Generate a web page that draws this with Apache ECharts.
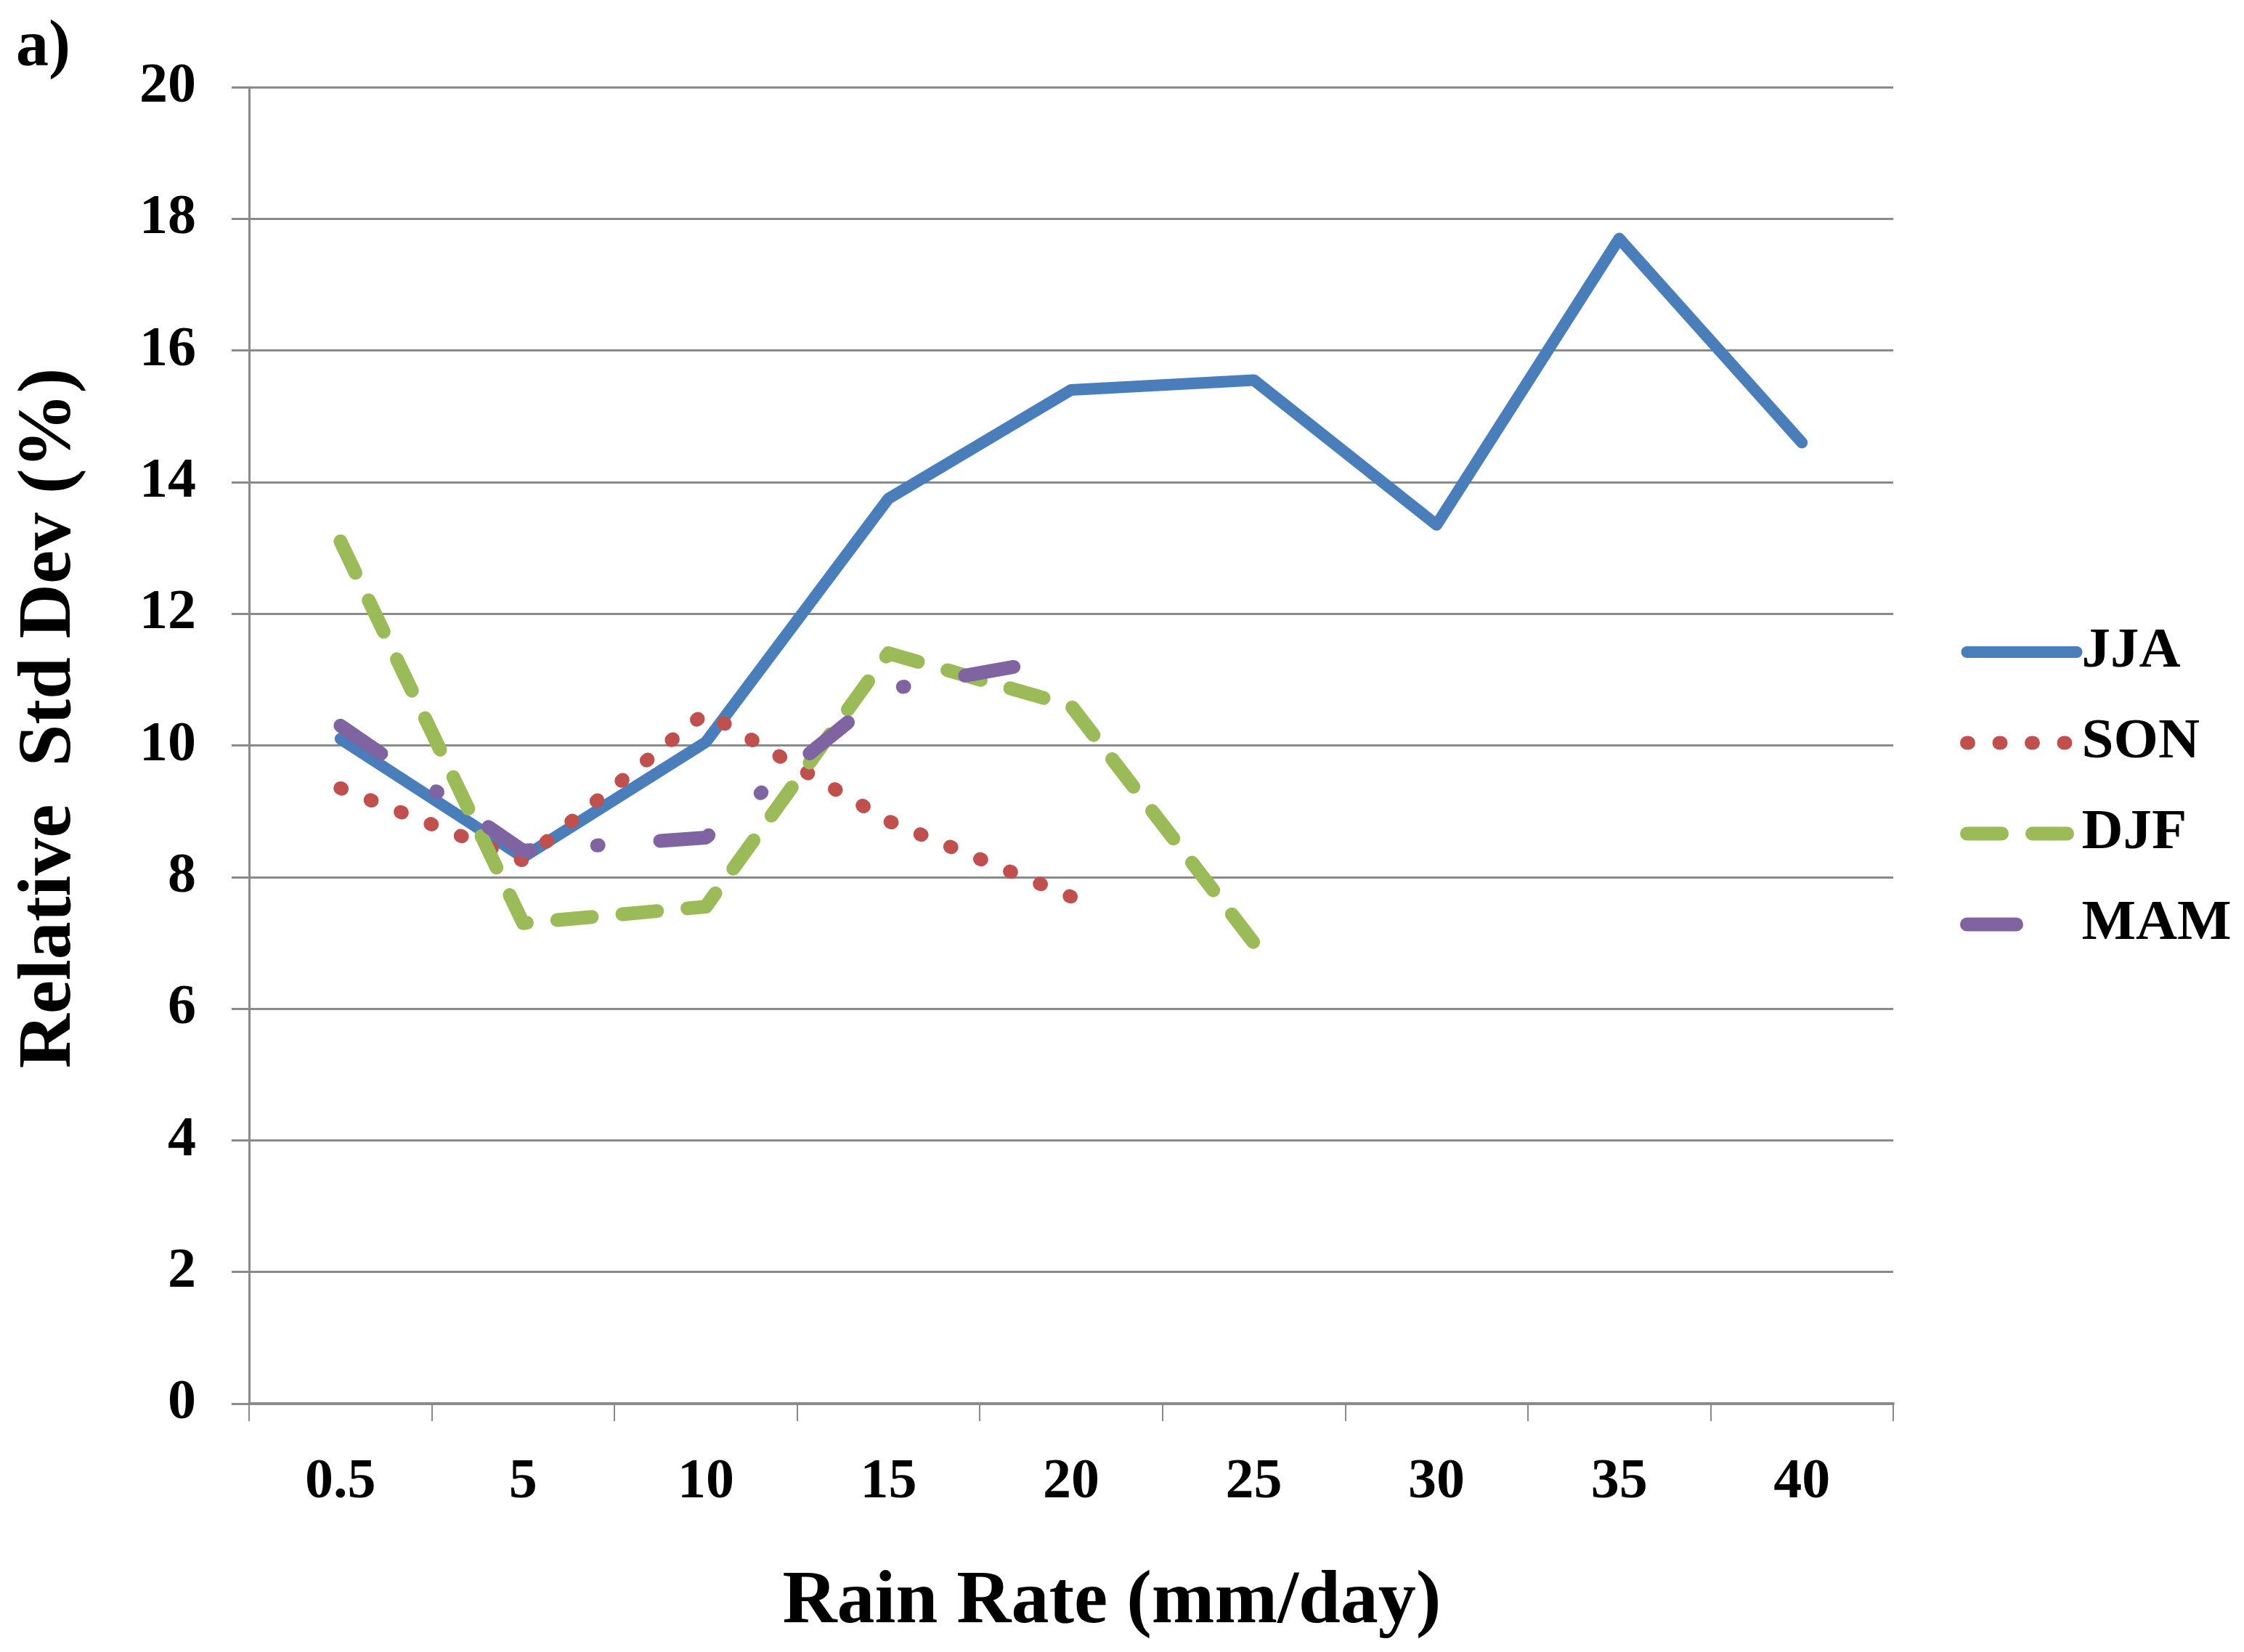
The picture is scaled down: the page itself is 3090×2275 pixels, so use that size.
<!DOCTYPE html>
<html>
<head>
<meta charset="utf-8">
<script src="https://cdn.jsdelivr.net/npm/echarts@6/dist/echarts.min.js"></script>
<style>
html,body{margin:0;padding:0;background:#fff;}
#chart{width:3090px;height:2275px;}
</style>
</head>
<body>
<div id="chart"></div>
<script>
const categories = ['0.5', '5', '10', '15', '20', '25', '30', '35', '40'];
const seriesNames = ['JJA', 'SON', 'DJF', 'MAM'];
const JJA = [10.1, 8.3, 10.05, 13.75, 15.4, 15.55, 13.35, 17.7, 14.6];
const SON = [9.35, 8.25, 10.5, 8.85, 7.7];
const DJF = [13.1, 7.3, 7.55, 11.4, 10.6, 7.0];
const MAM = [10.3, 8.4, 8.6, 10.85, 11.35];
const yTicks = [0, 2, 4, 6, 8, 10, 12, 14, 16, 18, 20];

const FONT = 'Liberation Serif';
const GRID_COLOR = '#8a8a8a';

const chart = echarts.init(document.getElementById('chart'));
const option = {
  animation: false,
  backgroundColor: '#fff',
  grid: { left: 343, right: 483, top: 120, bottom: 342, containLabel: false },
  legend: {
    orient: 'vertical',
    left: 2699,
    top: 858,
    padding: 0,
    itemWidth: 151,
    itemHeight: 20,
    itemGap: 45,
    data: seriesNames,
    itemStyle: { opacity: 0 },
    lineStyle: { width: 'inherit', type: 'inherit', cap: 'inherit' },
    textStyle: { fontFamily: FONT, fontWeight: 'bold', fontSize: 79, color: '#000', lineHeight: 80, padding: [0, 0, 0, 2] }
  },
  xAxis: {
    type: 'category',
    data: categories,
    boundaryGap: true,
    axisLine: { lineStyle: { color: GRID_COLOR, width: 4 } },
    axisTick: { show: true, length: 24, inside: false, alignWithLabel: false, lineStyle: { color: GRID_COLOR, width: 2 } },
    axisLabel: { fontFamily: FONT, fontWeight: 'bold', fontSize: 78, color: '#000', margin: 70 },
    splitLine: { show: false }
  },
  yAxis: {
    type: 'value',
    min: yTicks[0],
    max: yTicks[yTicks.length - 1],
    interval: 2,
    axisLine: { show: true, lineStyle: { color: GRID_COLOR, width: 3 } },
    axisTick: { show: true, length: 24, inside: false, lineStyle: { color: GRID_COLOR, width: 3 } },
    axisLabel: { fontFamily: FONT, fontWeight: 'bold', fontSize: 78, color: '#000', margin: 73 },
    splitLine: { show: true, lineStyle: { color: GRID_COLOR, width: 3 } }
  },
  graphic: [
    { type: 'text', left: 22, top: 22, style: { text: 'a)', font: 'bold 90px "Liberation Serif"', fill: '#000' } },
    { type: 'text', x: 1531, y: 2207, style: { text: 'Rain Rate (mm/day)', font: 'bold 104px "Liberation Serif"', fill: '#000', textAlign: 'center', textVerticalAlign: 'middle' } },
    { type: 'text', x: 69, y: 989, rotation: Math.PI / 2, style: { text: 'Relative  Std Dev (%)', font: 'bold 104px "Liberation Serif"', fill: '#000', textAlign: 'center', textVerticalAlign: 'middle' } }
  ],
  series: [
    { name: 'JJA', type: 'line', data: JJA, symbol: 'none', z: 2,
      lineStyle: { color: '#4a7ebb', width: 16, cap: 'round', join: 'round', type: 'solid' }, itemStyle: { color: '#4a7ebb' } },
    { name: 'SON', type: 'line', data: SON, symbol: 'none', z: 3,
      lineStyle: { color: '#c0504d', width: 19, cap: 'round', join: 'round', type: [2, 42.5] }, itemStyle: { color: '#c0504d' } },
    { name: 'DJF', type: 'line', data: DJF, symbol: 'none', z: 4,
      lineStyle: { color: '#9bbb59', width: 19, cap: 'round', join: 'round', type: [48, 42] }, itemStyle: { color: '#9bbb59' } },
    { name: 'MAM', type: 'line', data: MAM, symbol: 'none', z: 5,
      lineStyle: { color: '#8064a2', width: 19, cap: 'round', join: 'round', type: [68, 92, 2, 85] }, itemStyle: { color: '#8064a2' } }
  ]
};
chart.setOption(option);
</script>
</body>
</html>
